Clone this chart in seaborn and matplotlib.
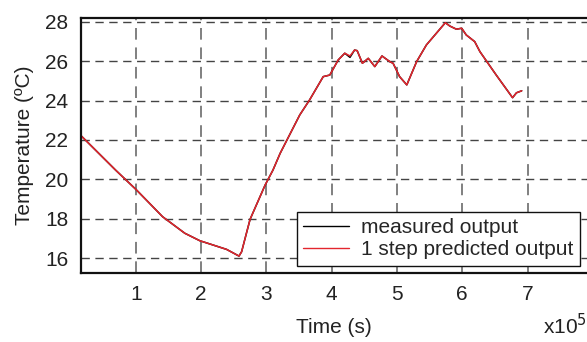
import numpy as np
import pandas as pd
import matplotlib
matplotlib.use("Agg")
import matplotlib.pyplot as plt
import seaborn as sns

# Time in units of 1e5 s
time_e5 = [0.16, 0.69, 1.01, 1.41, 1.75, 1.98, 2.39, 2.58, 2.62, 2.70, 2.75, 2.98,
           3.10, 3.21, 3.51, 3.66, 3.87, 3.97, 4.10, 4.20, 4.28, 4.35, 4.39, 4.47,
           4.56, 4.66, 4.77, 4.89, 4.94, 5.04, 5.15, 5.30, 5.45, 5.74, 5.81, 5.91,
           5.99, 6.06, 6.19, 6.27, 6.52, 6.77, 6.83, 6.91]
measured = [22.22, 20.47, 19.46, 18.10, 17.26, 16.88, 16.44, 16.10, 16.32, 17.34, 17.97, 19.71,
            20.47, 21.32, 23.27, 24.03, 25.22, 25.30, 26.07, 26.41, 26.20, 26.57, 26.54, 25.90,
            26.15, 25.73, 26.27, 25.98, 25.90, 25.22, 24.80, 25.98, 26.83, 27.96, 27.79, 27.63,
            27.68, 27.34, 27.00, 26.49, 25.30, 24.15, 24.40, 24.50]
predicted = [22.22, 20.47, 19.46, 18.10, 17.26, 16.88, 16.44, 16.10, 16.32, 17.34, 17.97, 19.71,
             20.47, 21.32, 23.27, 24.03, 25.22, 25.30, 26.07, 26.41, 26.27, 26.57, 26.54, 25.90,
             26.15, 25.73, 26.27, 25.98, 25.90, 25.22, 24.80, 25.98, 26.83, 27.96, 27.79, 27.63,
             27.68, 27.34, 27.00, 26.49, 25.30, 24.15, 24.40, 24.50]
series_labels = ["measured output", "1 step predicted output"]
x_ticks = [1, 2, 3, 4, 5, 6, 7]
y_ticks = [16, 18, 20, 22, 24, 26, 28]

sns.set_style("white")
plt.rcParams['font.family'] = ['Liberation Sans', 'DejaVu Sans']

fig = plt.figure(figsize=(5.87, 3.42), dpi=100)
ax = fig.add_axes([81/587, 1-273/342, 1-81/587, (273-18)/342])

df = pd.DataFrame({
    "t": time_e5 + time_e5,
    "temp": measured + predicted,
    "series": [series_labels[0]]*len(time_e5) + [series_labels[1]]*len(time_e5),
})
sns.lineplot(data=df, x="t", y="temp", hue="series",
             palette={series_labels[0]: "#000000", series_labels[1]: "#e3262e"},
             linewidth=1.1, ax=ax, sort=False, estimator=None)

ax.set_xlim(0.16, 7.91)
ax.set_ylim(15.24, 28.2)
ax.set_xticks(x_ticks)
ax.set_xticklabels([str(v) for v in x_ticks])
ax.set_yticks(y_ticks)
ax.set_yticklabels([str(v) for v in y_ticks])
ax.tick_params(axis='both', direction='in', length=4, width=1, labelsize=15,
               colors='#222222', pad=9)

for y in y_ticks:
    ax.axhline(y, color='#444444', lw=1.0, ls=(0, (6, 4)), zorder=0)
for x in x_ticks:
    ax.axvline(x, color='#808080', lw=1.4, ls=(0, (6, 4)), zorder=0)

for s in ['left', 'bottom', 'top']:
    ax.spines[s].set_color('#111111')
    ax.spines[s].set_linewidth(1.6)
ax.spines['right'].set_visible(False)

ax.set_xlabel("Time (s)", fontsize=15, color='#222222', labelpad=10)
ax.set_ylabel("Temperature (ºC)", fontsize=15, color='#222222', labelpad=8)

leg = ax.legend(loc='lower right', fontsize=15, frameon=True, fancybox=False,
                edgecolor='#111111', handlelength=2.2, borderpad=0.3,
                labelspacing=0.15, handletextpad=0.6, borderaxespad=0.35)
leg.get_frame().set_linewidth(1.0)
leg.get_frame().set_alpha(1)
for line in leg.get_lines():
    line.set_linewidth(1.0)

fig.text(0.999, 1-326/342, r"x10$^5$", fontsize=15, color='#222222',
         ha='right', va='center')

fig.savefig("out.png", dpi=100)
